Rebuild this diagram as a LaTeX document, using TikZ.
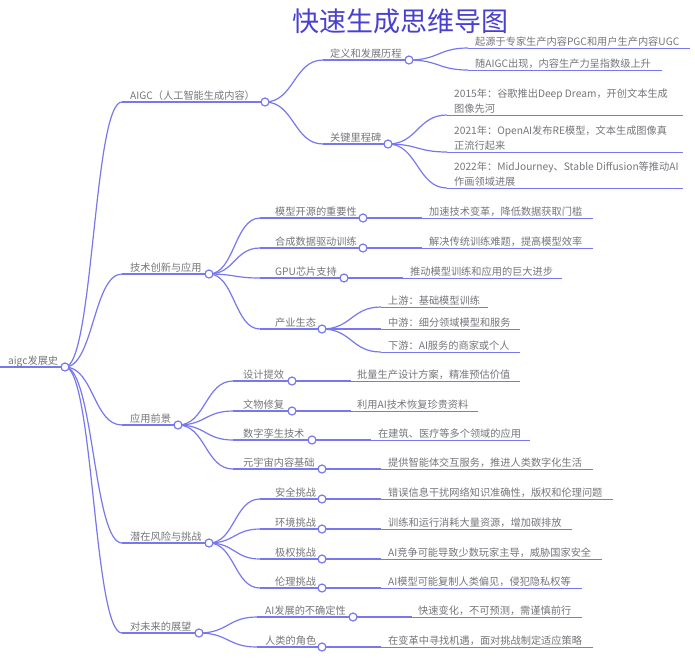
\documentclass[tikz,border=0pt]{standalone}
\usepackage{fontspec}
\newfontfamily\cjk{Noto Sans CJK SC}
\usetikzlibrary{calc,backgrounds}
\definecolor{linkc}{RGB}{120,120,238}
\definecolor{txtc}{RGB}{118,118,124}
\definecolor{titlec}{RGB}{74,64,208}
\tikzset{
  link/.style={draw=linkc, line width=1.2pt},
  under/.style={draw=linkc, line width=0.9pt},
  dot/.style={circle, draw=linkc, fill=white, line width=1.2pt, minimum size=8pt, inner sep=0pt},
  lbl/.style={font=\cjk\fontsize{10.2}{15}\selectfont, text=txtc, inner sep=0pt, anchor=base west},
  ttl/.style={font=\cjk\fontsize{27}{30}\selectfont, text=titlec, inner sep=0pt},
}
% curved connector from node #1 (centre) to coordinate #2
\newcommand\mmlink[2]{%
  \coordinate (mid) at ($(#1)!0.5!(#2)$);
  \draw[link] (#1.center) .. controls (mid |- #1) and (mid |- #2) .. (#2);}
% #1 name, #2 parent, #3 start x, #4 text x, #5 y, #6 circle x, #7 text
\newcommand\mmbranch[7]{%
  \coordinate (#1s) at (#3,#5);
  \node[lbl] (#1t) at (#4,#5-3) {#7};
  \node[dot] (#1) at (#6,#5) {};
  \begin{pgfonlayer}{background}
    \mmlink{#2}{#1s}
    \draw[link] (#1s) -- (#1.center);
  \end{pgfonlayer}}
% #1 name, #2 parent, #3 start x, #4 text x, #5 y, #6 end x, #7 text
\newcommand\mmleaf[7]{%
  \coordinate (#1s) at (#3,#5);
  \coordinate (#1e) at (#6,#5);
  \node[lbl] (#1t) at (#4,#5-3) {#7};
  \begin{pgfonlayer}{background}
    \mmlink{#2}{#1s}
    \draw[under] (#1s) -- (#1e);
  \end{pgfonlayer}}
\newcommand\twol[2]{\begin{tabular}[b]{@{}l@{}}#1\\#2\end{tabular}}
\begin{document}
\begin{tikzpicture}[x=1pt,y=-1pt]
\begin{pgfonlayer}{background}
  \fill[white] (0,0) rectangle (695,657);
\end{pgfonlayer}
\useasboundingbox (0,0) rectangle (695,657);

\node[ttl] (title) at (400,21) {快速生成思维导图};

% root
\coordinate (Rs) at (0,367);
\node[lbl] (Rt) at (8,364) {aigc发展史};
\node[dot] (R) at (65,367) {};
\begin{pgfonlayer}{background}
  \draw[link] (Rs) -- (R.center);
\end{pgfonlayer}

% level 1
\mmbranch{A}{R}{122}{130}{102}{265}{AIGC（人工智能生成内容）}
\mmbranch{B}{R}{122}{130}{274}{209}{技术创新与应用}
\mmbranch{C}{R}{122}{130}{425}{178}{应用前景}
\mmbranch{D}{R}{122}{130}{543}{209}{潜在风险与挑战}
\mmbranch{E}{R}{122}{130}{633}{199}{对未来的展望}

% AIGC
\mmbranch{Aa}{A}{323}{330}{60}{409}{定义和发展历程}
\mmbranch{Ab}{A}{323}{330}{144}{388}{关键里程碑}
\mmleaf{Aa1}{Aa}{468}{475}{48}{690}{起源于专家生产内容PGC和用户生产内容UGC}
\mmleaf{Aa2}{Aa}{468}{475}{70}{662}{随AIGC出现，内容生产力呈指数级上升}
\mmleaf{Ab1}{Ab}{447}{454}{115}{683}{\twol{2015年：谷歌推出Deep Dream，开创文本生成}{图像先河}}
\mmleaf{Ab2}{Ab}{447}{454}{152}{683}{\twol{2021年：OpenAI发布RE模型，文本生成图像真}{正流行起来}}
\mmleaf{Ab3}{Ab}{447}{454}{188}{683}{\twol{2022年：MidJourney、Stable Diffusion等推动AI}{作画领域进展}}

% 技术创新与应用
\mmbranch{Ba}{B}{260}{275}{218}{363}{模型开源的重要性}
\mmbranch{Bb}{B}{260}{275}{248}{363}{合成数据驱动训练}
\mmbranch{Bc}{B}{260}{275}{278}{344}{GPU芯片支持}
\mmbranch{Bd}{B}{260}{275}{329}{322}{产业生态}
\mmleaf{Ba1}{Ba}{422}{429}{218}{593}{加速技术变革，降低数据获取门槛}
\mmleaf{Bb1}{Bb}{422}{429}{248}{593}{解决传统训练难题，提高模型效率}
\mmleaf{Bc1}{Bc}{403}{410}{278}{562}{推动模型训练和应用的巨大进步}
\mmleaf{Bd1}{Bd}{381}{388}{307}{488}{上游：基础模型训练}
\mmleaf{Bd2}{Bd}{381}{388}{329}{520}{中游：细分领域模型和服务}
\mmleaf{Bd3}{Bd}{381}{388}{352}{520}{下游：AI服务的商家或个人}

% 应用前景
\mmbranch{Ca}{C}{233}{243}{381}{292}{设计提效}
\mmbranch{Cb}{C}{233}{243}{411}{292}{文物修复}
\mmbranch{Cc}{C}{233}{243}{440}{312}{数字孪生技术}
\mmbranch{Cd}{C}{233}{243}{469}{322}{元宇宙内容基础}
\mmleaf{Ca1}{Ca}{351}{357}{381}{520}{批量生产设计方案，精准预估价值}
\mmleaf{Cb1}{Cb}{351}{357}{411}{478}{利用AI技术恢复珍贵资料}
\mmleaf{Cc1}{Cc}{371}{378}{440}{530}{在建筑、医疗等多个领域的应用}
\mmleaf{Cd1}{Cd}{381}{388}{469}{593}{提供智能体交互服务，推进人类数字化生活}

% 潜在风险与挑战
\mmbranch{Da}{D}{260}{275}{499}{322}{安全挑战}
\mmbranch{Db}{D}{260}{275}{529}{322}{环境挑战}
\mmbranch{Dc}{D}{260}{275}{559}{322}{极权挑战}
\mmbranch{Dd}{D}{260}{275}{588}{322}{伦理挑战}
\mmleaf{Da1}{Da}{381}{388}{499}{613}{错误信息干扰网络知识准确性，版权和伦理问题}
\mmleaf{Db1}{Db}{381}{388}{529}{572}{训练和运行消耗大量资源，增加碳排放}
\mmleaf{Dc1}{Dc}{381}{388}{559}{602}{AI竞争可能导致少数玩家主导，威胁国家安全}
\mmleaf{Dd1}{Dd}{381}{388}{588}{582}{AI模型可能复制人类偏见，侵犯隐私权等}

% 对未来的展望
\mmbranch{Ea}{E}{257}{265}{617}{353}{AI发展的不确定性}
\mmbranch{Eb}{E}{257}{265}{647}{322}{人类的角色}
\mmleaf{Ea1}{Ea}{412}{418}{617}{582}{快速变化，不可预测，需谨慎前行}
\mmleaf{Eb1}{Eb}{381}{388}{647}{593}{在变革中寻找机遇，面对挑战制定适应策略}
\end{tikzpicture}
\end{document}
